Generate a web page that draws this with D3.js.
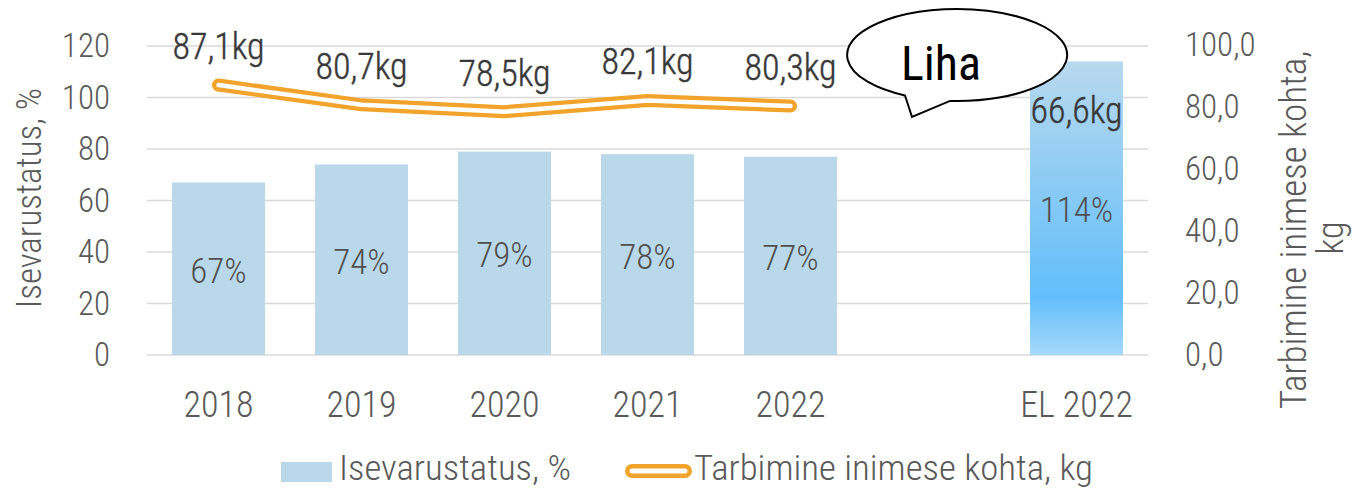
<!DOCTYPE html>
<html>
<head>
<meta charset="utf-8">
<script src="https://cdn.jsdelivr.net/npm/d3@7"></script>
<style>
  body { margin: 0; background: #fff; }
  text { font-family: "Roboto Condensed", "Liberation Sans Narrow", Roboto, sans-serif; font-weight: 300; }
</style>
</head>
<body>
<div id="container"></div>
<script>
const categories = ["2018", "2019", "2020", "2021", "2022", " ", "EL 2022"];
const selfSufficiency = [67, 74, 79, 78, 77, null, 114];
const consumption = [87.1, 80.7, 78.5, 82.1, 80.3, null, 66.6];
const lineYears = ["2018", "2019", "2020", "2021", "2022"];
const leftTicks = [0, 20, 40, 60, 80, 100, 120];
const rightTicks = [0, 20, 40, 60, 80, 100];

const w = 1361;
const h = 489;
const fmt = (v) => v.toFixed(1).replace(".", ",");

const svg = d3.select("#container")
  .append("svg")
  .attr("width", w)
  .attr("height", h);

const defs = svg.append("defs");
const grad = defs.append("linearGradient")
  .attr("id", "euGrad")
  .attr("x1", 0).attr("y1", 0).attr("x2", 0).attr("y2", 1);
grad.append("stop").attr("offset", "0%").attr("stop-color", "#b8d9ed");
grad.append("stop").attr("offset", "80%").attr("stop-color", "#62befb");
grad.append("stop").attr("offset", "100%").attr("stop-color", "#a6d8fa");

const xScale = d3.scaleBand()
  .domain(categories)
  .range([147, 1148])
  .paddingInner(0.35)
  .paddingOuter(0.175);

const yLeft = d3.scaleLinear().domain([0, 120]).range([355, 46]);
const yRight = d3.scaleLinear().domain([0, 100]).range([355, 45]);

// gridlines
svg.append("g")
  .selectAll("line")
  .data(leftTicks)
  .enter()
  .append("line")
  .attr("x1", 147)
  .attr("x2", 1148)
  .attr("y1", (d) => yLeft(d))
  .attr("y2", (d) => yLeft(d))
  .attr("stroke", "#d9d9d9")
  .attr("stroke-width", 1.5);

// axes
const leftAxis = svg.append("g")
  .attr("transform", "translate(110,0)")
  .call(d3.axisLeft(yLeft).tickValues(leftTicks).tickSize(0).tickPadding(0));
const rightAxis = svg.append("g")
  .attr("transform", "translate(1185,0)")
  .call(d3.axisRight(yRight).tickValues(rightTicks).tickFormat(fmt).tickSize(0).tickPadding(0));
const bottomAxis = svg.append("g")
  .attr("transform", "translate(0,355)")
  .call(d3.axisBottom(xScale).tickSize(0).tickPadding(0));

[leftAxis, rightAxis, bottomAxis].forEach((g) => {
  g.select(".domain").remove();
  g.selectAll("text")
    .attr("fill", "#595959")
    .style("font-size", "33px")
    .style("font-family", "\"Roboto Condensed\", \"Liberation Sans Narrow\", Roboto, sans-serif")
    .style("font-weight", 300);
});
bottomAxis.selectAll("text")
  .attr("dy", null)
  .attr("y", 62)
  .style("font-size", "36px");

// bars
const barData = categories.map((c, i) => ({ cat: c, val: selfSufficiency[i] })).filter((d) => d.val !== null);
svg.append("g")
  .selectAll("rect")
  .data(barData)
  .enter()
  .append("rect")
  .attr("x", (d) => xScale(d.cat))
  .attr("y", (d) => yLeft(d.val))
  .attr("width", xScale.bandwidth())
  .attr("height", (d) => yLeft(0) - yLeft(d.val))
  .attr("fill", (d) => d.cat === "EL 2022" ? "url(#euGrad)" : "#b9d8ea");

svg.append("g")
  .selectAll("text")
  .data(barData)
  .enter()
  .append("text")
  .attr("x", (d) => xScale(d.cat) + xScale.bandwidth() / 2)
  .attr("y", (d) => (yLeft(d.val) + yLeft(0)) / 2 + 14)
  .attr("text-anchor", "middle")
  .attr("fill", "#505050")
  .style("font-size", "35px")
  .text((d) => d.val + "%");

// line (double line: orange outline, white core)
const lineData = lineYears.map((y) => ({ cat: y, val: consumption[categories.indexOf(y)] }));
const line = d3.line()
  .x((d) => xScale(d.cat) + xScale.bandwidth() / 2)
  .y((d) => yRight(d.val));

svg.append("path")
  .datum(lineData)
  .attr("d", line)
  .attr("fill", "none")
  .attr("stroke", "#f2a32b")
  .attr("stroke-width", 13)
  .attr("stroke-linejoin", "round")
  .attr("stroke-linecap", "round");
svg.append("path")
  .datum(lineData)
  .attr("d", line)
  .attr("fill", "none")
  .attr("stroke", "#fff")
  .attr("stroke-width", 4.5)
  .attr("stroke-linejoin", "round")
  .attr("stroke-linecap", "round");

// kg labels
const kgData = categories.map((c, i) => ({ cat: c, val: consumption[i] })).filter((d) => d.val !== null);
svg.append("g")
  .selectAll("text")
  .data(kgData)
  .enter()
  .append("text")
  .attr("x", (d) => xScale(d.cat) + xScale.bandwidth() / 2)
  .attr("y", (d) => yRight(d.val) - 26)
  .attr("text-anchor", "middle")
  .attr("fill", "#383838")
  .style("font-size", "36px")
  .style("font-weight", 300)
  .attr("stroke", "#383838")
  .attr("stroke-width", 0.4)
  .text((d) => fmt(d.val) + "kg");

// axis titles
svg.append("text")
  .attr("transform", "translate(41,198) rotate(-90)")
  .attr("text-anchor", "middle")
  .attr("fill", "#595959")
  .style("font-size", "35px")
  .text("Isevarustatus, %");

svg.append("text")
  .attr("transform", "translate(1306,230) rotate(-90)")
  .attr("text-anchor", "middle")
  .attr("fill", "#595959")
  .style("font-size", "37px")
  .text("Tarbimine inimese kohta,");
svg.append("text")
  .attr("transform", "translate(1343,238) rotate(-90)")
  .attr("text-anchor", "middle")
  .attr("fill", "#595959")
  .style("font-size", "37px")
  .text("kg");

// callout bubble
const bubble = svg.append("g");
bubble.append("path")
  .attr("d", "M 905 95.5 A 110 46 0 1 1 950 100.9 L 912 117 Z")
  .attr("fill", "#fff")
  .attr("stroke", "#000")
  .attr("stroke-width", 2);
bubble.append("text")
  .attr("x", 941)
  .attr("y", 80)
  .attr("text-anchor", "middle")
  .attr("fill", "#000")
  .style("font-size", "48px")
  .style("font-weight", 400)
  .text("Liha");

// legend
const legend = svg.append("g");
legend.append("rect")
  .attr("x", 281).attr("y", 462)
  .attr("width", 51).attr("height", 20)
  .attr("fill", "#b9d8ea");
legend.append("text")
  .attr("x", 339).attr("y", 480)
  .attr("fill", "#595959")
  .style("font-size", "35px")
  .attr("textLength", 232)
  .attr("lengthAdjust", "spacingAndGlyphs")
  .text("Isevarustatus, %");
legend.append("line")
  .attr("x1", 632).attr("x2", 685).attr("y1", 471).attr("y2", 471)
  .attr("stroke", "#f2a32b").attr("stroke-width", 14).attr("stroke-linecap", "round");
legend.append("line")
  .attr("x1", 632).attr("x2", 685).attr("y1", 471).attr("y2", 471)
  .attr("stroke", "#fff").attr("stroke-width", 5).attr("stroke-linecap", "round");
legend.append("text")
  .attr("x", 694).attr("y", 480)
  .attr("fill", "#595959")
  .style("font-size", "35px")
  .attr("textLength", 399)
  .attr("lengthAdjust", "spacingAndGlyphs")
  .text("Tarbimine inimese kohta, kg");
</script>
</body>
</html>
